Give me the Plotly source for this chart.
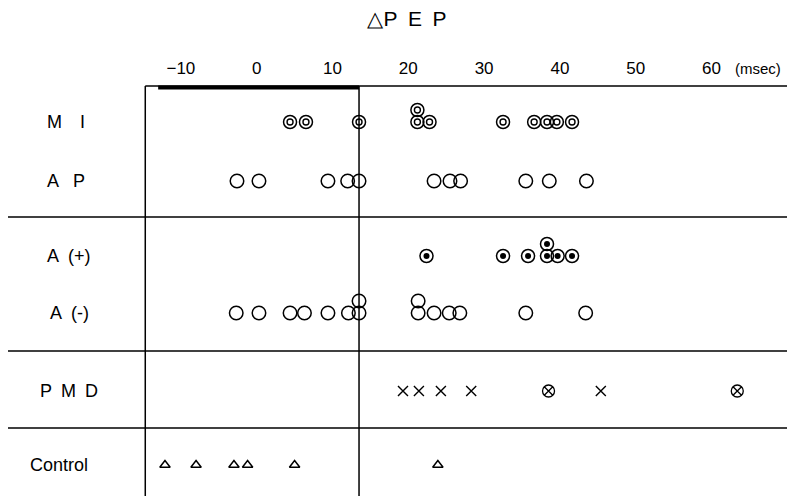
import plotly.graph_objects as go

# ΔPEP (msec) for each group; "tier" 1 marks a point drawn raised above a coincident one
mi_pep = [4.4, 6.5, 13.5, 21.2, 21.2, 22.8, 32.5, 36.6, 38.3, 39.6, 41.6]
mi_tier = [0, 0, 0, 0, 1, 0, 0, 0, 0, 0, 0]

ap_pep = [-2.6, 0.3, 9.4, 12.0, 13.5, 23.4, 25.5, 26.9, 35.5, 38.6, 43.5]
ap_tier = [0, 0, 0, 0, 0, 0, 0, 0, 0, 0, 0]

a_plus_pep = [22.4, 32.5, 35.8, 38.3, 38.3, 39.7, 41.6]
a_plus_tier = [0, 0, 0, 0, 1, 0, 0]

a_minus_pep = [-2.7, 0.3, 4.4, 6.3, 9.4, 12.1, 13.5, 13.5, 21.3, 21.3, 23.4, 25.4, 26.8, 35.5, 43.4]
a_minus_tier = [0, 0, 0, 0, 0, 0, 0, 1, 0, 1, 0, 0, 0, 0, 0]

pmd_cross_pep = [19.3, 21.4, 24.3, 28.3, 45.4]
pmd_circled_pep = [38.5, 63.4]

control_pep = [-12.1, -8.0, -3.0, -1.2, 5.0, 23.9]

EN = "\u2002"
row_labels = ["M" + EN + EN + "I", "A" + EN + " P", "A" + EN + "(+)", "A" + EN + "(-)",
              "P" + EN + "M" + EN + "D", "Control"]
tick_values = [-10, 0, 10, 20, 30, 40, 50, 60]
tick_labels = ["\u221210", "0", "10", "20", "30", "40", "50", "60"]

# layout geometry (page pixels on the vertical axis)
W, H = 787, 496
TOP = 80
row_y = [122, 181, 256, 313, 391, 465]
label_x = [66, 66, 69, 69, 69, 59]
RAISE = 12
PX_PER_MS = 7.58
ZERO_PX = 256.7
x_range = [-ZERO_PX / PX_PER_MS, (W - ZERO_PX) / PX_PER_MS]
frame_left = -14.7
normal_limit = 13.5
bar_start = -13.0
separators = [217, 351, 428]

FONT = "Liberation Sans, Arial, sans-serif"
INK = "black"


def ys(row, tiers):
    return [row_y[row] - RAISE * t for t in tiers]


fig = go.Figure()


def add(x, y, symbol, size, width=1.5, color=INK):
    fig.add_trace(go.Scatter(
        x=x, y=y, mode="markers", hoverinfo="skip",
        marker=dict(symbol=symbol, size=size, color=color,
                    line=dict(color=INK, width=width)),
    ))


# MI: double circles
add(mi_pep, ys(0, mi_tier), "circle-open", 13)
add(mi_pep, ys(0, mi_tier), "circle-open", 6, 1.4)
# AP: open circles
add(ap_pep, ys(1, ap_tier), "circle-open", 13.5)
# A(+): circle with filled centre
add(a_plus_pep, ys(2, a_plus_tier), "circle-open", 13)
add(a_plus_pep, ys(2, a_plus_tier), "circle", 6, 0)
# A(-): open circles
add(a_minus_pep, ys(3, a_minus_tier), "circle-open", 13.5)
# PMD: crosses and circled crosses
add(pmd_cross_pep, [row_y[4]] * len(pmd_cross_pep), "x-thin-open", 10, 1.4)
add(pmd_circled_pep, [row_y[4]] * len(pmd_circled_pep), "circle-x-open", 12, 1.3)
# Control: open triangles
add(control_pep, [row_y[5]] * len(control_pep), "triangle-up-open", 9, 1.5)

shapes = [
    # top rule and thick bar over the normal range
    dict(type="line", xref="x", yref="y", x0=frame_left, x1=x_range[1], y0=86, y1=86,
         line=dict(color=INK, width=1.5)),
    dict(type="line", xref="x", yref="y", x0=bar_start, x1=normal_limit, y0=87.5, y1=87.5,
         line=dict(color=INK, width=4)),
    # vertical rules
    dict(type="line", xref="x", yref="y", x0=frame_left, x1=frame_left, y0=86, y1=H,
         line=dict(color=INK, width=1.5)),
    dict(type="line", xref="x", yref="y", x0=normal_limit, x1=normal_limit, y0=86, y1=H,
         line=dict(color=INK, width=1.5)),
]
for sy in separators:
    shapes.append(dict(type="line", xref="paper", yref="y", x0=8 / W, x1=1, y0=sy, y1=sy,
                       line=dict(color=INK, width=1.3)))

annotations = []
for label, ry, lx in zip(row_labels, row_y, label_x):
    annotations.append(dict(
        text=label, xref="paper", yref="y", x=lx / W, y=ry, xanchor="center",
        yanchor="middle", showarrow=False, font=dict(family=FONT, size=18, color=INK)))
annotations.append(dict(
    text="(msec)", xref="paper", yref="paper", x=758 / W, y=1 + (TOP - 68) / (H - TOP),
    xanchor="center", yanchor="middle", showarrow=False,
    font=dict(family=FONT, size=15, color=INK)))

fig.update_layout(
    width=W, height=H,
    margin=dict(l=0, r=0, t=TOP, b=0),
    paper_bgcolor="white", plot_bgcolor="white",
    showlegend=False,
    title=dict(text="\u25b3P" + EN + "E" + EN + "P", x=407 / W, xanchor="center",
               y=1 - 19 / H, yanchor="middle",
               font=dict(family=FONT, size=21, color=INK)),
    xaxis=dict(range=x_range, side="top", tickvals=tick_values, ticktext=tick_labels,
               showgrid=False, zeroline=False, showline=False, ticks="",
               ticklabelstandoff=2,
               tickfont=dict(family=FONT, size=17, color=INK), fixedrange=True),
    yaxis=dict(range=[H, TOP], visible=False, showgrid=False, zeroline=False,
               fixedrange=True),
    shapes=shapes,
    annotations=annotations,
)

fig.write_html("out.html")
